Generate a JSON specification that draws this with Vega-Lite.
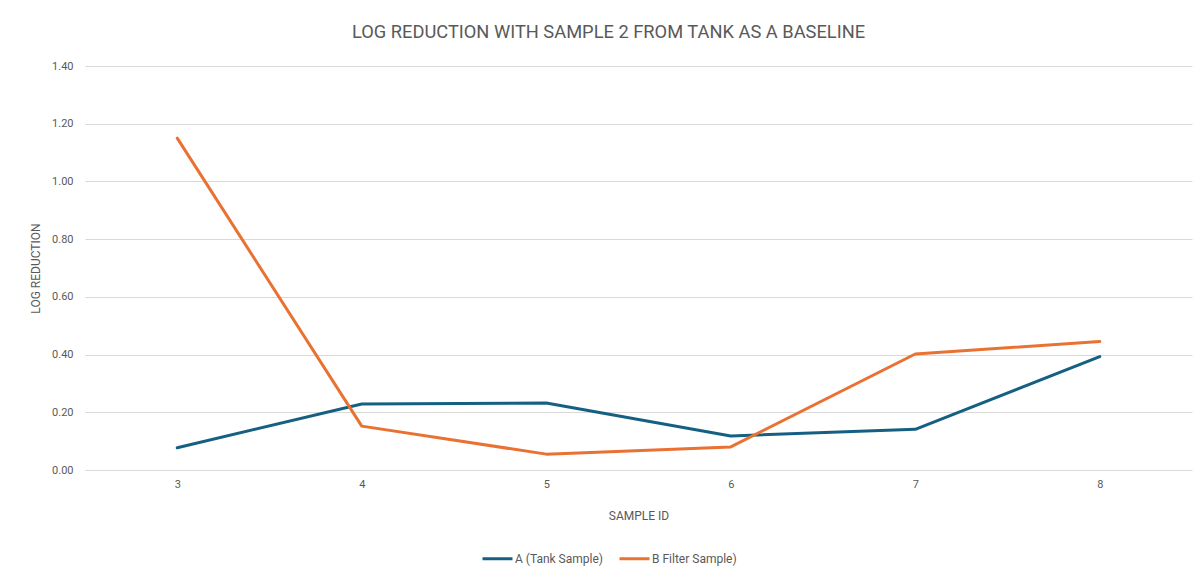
{
  "$schema": "https://vega.github.io/schema/vega-lite/v6.json",
  "width": 1107,
  "height": 404,
  "autosize": "none",
  "padding": {"left": 85, "top": 66, "right": 9, "bottom": 109},
  "background": "white",
  "config": {
    "font": "Roboto",
    "view": {"stroke": null},
    "axis": {"labelColor": "#595959", "titleColor": "#595959", "labelFontSize": 11, "titleFontSize": 12, "titleFontWeight": "normal", "labelFont": "Roboto", "titleFont": "Roboto"}
  },
  "title": {
    "text": "LOG REDUCTION WITH SAMPLE 2 FROM TANK AS A BASELINE",
    "fontSize": 18.3,
    "fontWeight": "normal",
    "color": "#595959",
    "anchor": "middle",
    "dx": -30,
    "offset": 18
  },
  "data": {
    "values": [
      {"sample": 3, "series": "A (Tank Sample)", "value": 0.077},
      {"sample": 4, "series": "A (Tank Sample)", "value": 0.229},
      {"sample": 5, "series": "A (Tank Sample)", "value": 0.232},
      {"sample": 6, "series": "A (Tank Sample)", "value": 0.118},
      {"sample": 7, "series": "A (Tank Sample)", "value": 0.141},
      {"sample": 8, "series": "A (Tank Sample)", "value": 0.393},
      {"sample": 3, "series": "B Filter Sample)", "value": 1.15},
      {"sample": 4, "series": "B Filter Sample)", "value": 0.152},
      {"sample": 5, "series": "B Filter Sample)", "value": 0.055},
      {"sample": 6, "series": "B Filter Sample)", "value": 0.08},
      {"sample": 7, "series": "B Filter Sample)", "value": 0.402},
      {"sample": 8, "series": "B Filter Sample)", "value": 0.445}
    ]
  },
  "mark": {"type": "line", "strokeWidth": 3, "strokeCap": "round", "strokeJoin": "round"},
  "encoding": {
    "x": {
      "field": "sample",
      "type": "ordinal",
      "scale": {"type": "point", "padding": 0.5},
      "axis": {
        "title": "SAMPLE ID",
        "labelAngle": 0,
        "ticks": false,
        "domain": false,
        "grid": false,
        "labelPadding": 8,
        "titleY": 45,
        "titleBaseline": "middle"
      }
    },
    "y": {
      "field": "value",
      "type": "quantitative",
      "scale": {"domain": [0, 1.4], "nice": false},
      "axis": {
        "title": "LOG REDUCTION",
        "values": [0, 0.2, 0.4, 0.6, 0.8, 1.0, 1.2, 1.4],
        "format": ".2f",
        "ticks": false,
        "domain": false,
        "gridColor": "#d9d9d9",
        "gridWidth": 1,
        "labelPadding": 12,
        "titleX": -50,
        "titleY": 202,
        "titleAlign": "center",
        "titleBaseline": "middle",
        "titleAngle": -90
      }
    },
    "color": {
      "field": "series",
      "type": "nominal",
      "scale": {"domain": ["A (Tank Sample)", "B Filter Sample)"], "range": ["#156082", "#E97132"]},
      "legend": {
        "title": null,
        "orient": "none",
        "direction": "horizontal",
        "legendX": 396,
        "legendY": 476,
        "symbolType": "stroke",
        "symbolStrokeWidth": 3,
        "symbolSize": 900,
        "labelFontSize": 12,
        "labelColor": "#595959",
        "labelFont": "Roboto",
        "columnPadding": 10,
        "labelOffset": 1
      }
    }
  }
}
